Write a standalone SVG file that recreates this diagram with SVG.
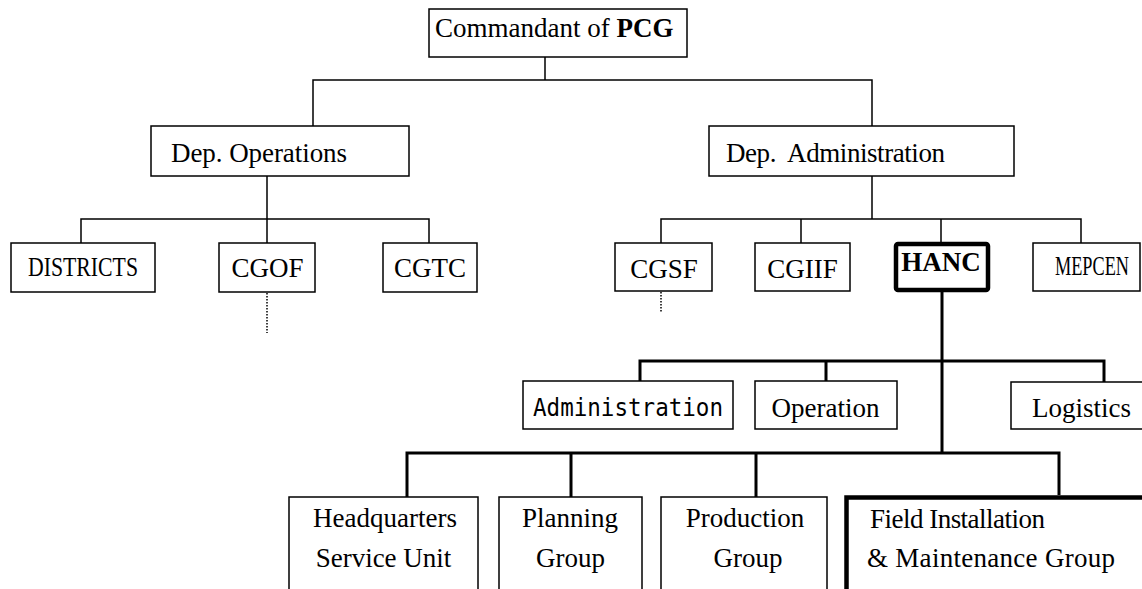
<svg xmlns="http://www.w3.org/2000/svg" width="1142" height="589" viewBox="0 0 1142 589">
<style>
.box{fill:#fff;stroke:#000;stroke-width:1.5}
.bold{fill:#fff;stroke:#000;stroke-width:4.5}
.t{font-family:"Liberation Serif","Times New Roman",serif;font-size:27px;fill:#000}
.m{text-anchor:middle}
.mono{font-family:"DejaVu Sans Mono","Liberation Mono",monospace;font-size:24px;fill:#000}
.thin{fill:none;stroke:#000;stroke-width:1.5}
.thick{fill:none;stroke:#000;stroke-width:3}
.dot{fill:none;stroke:#000;stroke-width:1.5;stroke-dasharray:1.5 1.5}
</style>
<rect width="1142" height="589" fill="#fff"/>
<g id="connectors">
  <path class="thin" d="M545 57V80M313 126V80H872V126"/>
  <path class="thin" d="M267 176V243M81 243V219H429V243"/>
  <path class="thin" d="M872 176V219M661 243V219H1081V243M801 219V243M941 219V242"/>
  <path class="dot" d="M267 293V333M661 292V312"/>
  <path class="thick" d="M942 292V453M640 381V361H1104V382M826 361V381"/>
  <path class="thick" d="M407 497V453H1059V495M571 453V497M756 453V497"/>
</g>
<g id="commandant">
  <rect class="box" x="429" y="9" width="258" height="48"/>
  <text class="t" x="435" y="37" font-size="27.5">Commandant of <tspan font-weight="bold">PCG</tspan></text>
</g>
<g id="dep-operations">
  <rect class="box" x="151" y="126" width="258" height="50"/>
  <text class="t" x="171" y="162" textLength="176">Dep. Operations</text>
</g>
<g id="dep-administration">
  <rect class="box" x="709" y="126" width="305" height="50"/>
  <text class="t" x="726" y="162" textLength="219" xml:space="preserve">Dep.  Administration</text>
</g>
<g id="districts">
  <rect class="box" x="11" y="243" width="144" height="49"/>
  <text class="t" x="28" y="276" textLength="110" lengthAdjust="spacingAndGlyphs">DISTRICTS</text>
</g>
<g id="cgof">
  <rect class="box" x="219" y="243" width="96" height="49"/>
  <text class="t m" x="267.5" y="277">CGOF</text>
</g>
<g id="cgtc">
  <rect class="box" x="383" y="243" width="94" height="49"/>
  <text class="t m" x="430" y="277">CGTC</text>
</g>
<g id="cgsf">
  <rect class="box" x="615" y="243" width="97" height="48"/>
  <text class="t m" x="664" y="278">CGSF</text>
</g>
<g id="cgiif">
  <rect class="box" x="755" y="243" width="95" height="48"/>
  <text class="t m" x="802.5" y="278">CGIIF</text>
</g>
<g id="hanc">
  <rect class="bold" x="896" y="244" width="92" height="46" rx="2"/>
  <text class="t m" x="941" y="271" font-weight="bold" font-size="28.5">HANC</text>
</g>
<g id="mepcen">
  <rect class="box" x="1033" y="243" width="107" height="48"/>
  <text class="t" x="1055" y="275" font-size="22" textLength="74" lengthAdjust="spacingAndGlyphs">MEPCEN</text>
</g>
<g id="administration">
  <rect class="box" x="523" y="381" width="210" height="48"/>
  <text class="mono" x="533" y="416" textLength="190" lengthAdjust="spacingAndGlyphs">Administration</text>
</g>
<g id="operation">
  <rect class="box" x="755" y="381" width="142" height="48"/>
  <text class="t m" x="825.5" y="417">Operation</text>
</g>
<g id="logistics">
  <rect class="box" x="1011" y="382" width="140" height="47"/>
  <text class="t m" x="1081.5" y="417">Logistics</text>
</g>
<g id="hq-service-unit">
  <rect class="box" x="289" y="497" width="189" height="110"/>
  <text class="t m" x="385" y="527">Headquarters</text>
  <text class="t m" x="383.5" y="567">Service Unit</text>
</g>
<g id="planning-group">
  <rect class="box" x="499" y="497" width="143" height="110"/>
  <text class="t m" x="570" y="527">Planning</text>
  <text class="t m" x="570.5" y="567">Group</text>
</g>
<g id="production-group">
  <rect class="box" x="661" y="497" width="166" height="110"/>
  <text class="t m" x="745" y="527">Production</text>
  <text class="t m" x="748" y="567">Group</text>
</g>
<g id="field-installation">
  <rect class="bold" x="846.5" y="497.5" width="320" height="120"/>
  <text class="t" x="870" y="528" textLength="175">Field Installation</text>
  <text class="t" x="867" y="567" textLength="248">&amp; Maintenance Group</text>
</g>
</svg>
